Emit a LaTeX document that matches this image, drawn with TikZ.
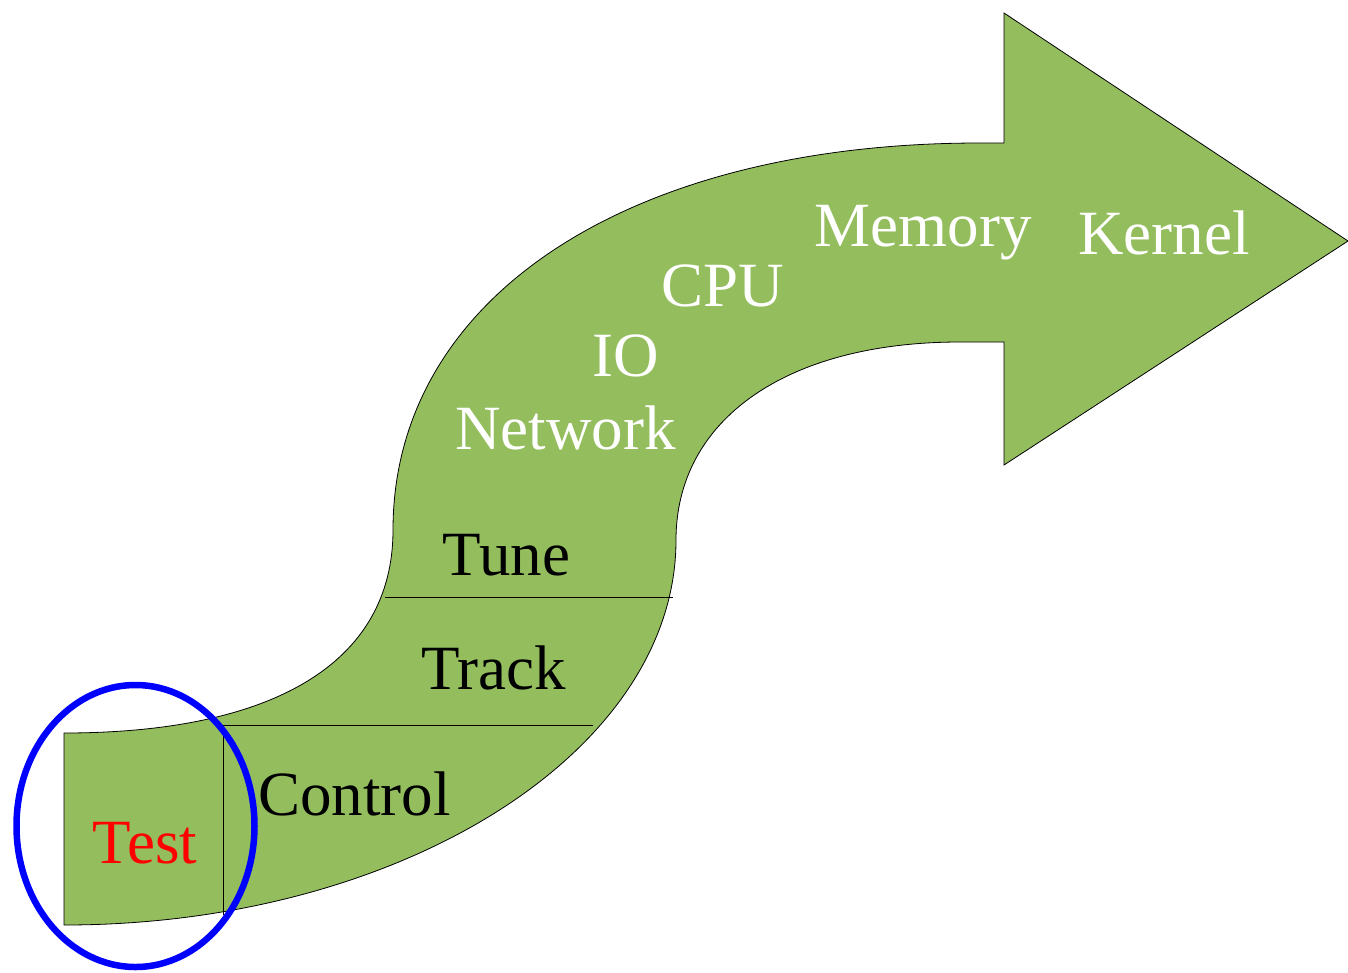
\documentclass[tikz,border=0pt]{standalone}
\usepackage{fontspec}
\setmainfont{Liberation Serif}
\definecolor{leaf}{RGB}{148,189,94}
\definecolor{ringblue}{RGB}{0,0,255}
\begin{document}
\begin{tikzpicture}[x=1pt,y=-1pt,
  word/.style={inner sep=0pt, anchor=base, font=\fontsize{63}{70}\selectfont},
  lightword/.style={word, text=white},
  darkword/.style={word, text=black},
  band/.style={draw=black, fill=leaf, line width=0.8pt, line join=miter},
  divider/.style={draw=black, line width=0.8pt},
  ring/.style={draw=ringblue, line width=6.5pt}]
\useasboundingbox (0,0) rectangle (1348,972);

% S-shaped band ending in a wide arrow head
\path[band]
  (64,733) .. controls (270,733) and (393,665) .. (393,530)
  .. controls (393,298) and (628,143) .. (980,143)
  -- (1004,143) -- (1004,13) -- (1348,241) -- (1004,465) -- (1004,342) -- (960,342)
  .. controls (786,342) and (676,420) .. (676,540)
  .. controls (676,752) and (401,925) .. (64,925) -- cycle;

% stage dividers
\coordinate (tuneL) at (385,597);
\coordinate (tuneR) at (673,597);
\coordinate (trackL) at (223,725);
\coordinate (trackR) at (593,725);
\coordinate (testB) at (223,915);
\draw[divider] (tuneL) -- (tuneR);
\draw[divider] (trackL) -- (trackR);
\draw[divider] (trackL) -- (testB);

% stage labels
\node[word, text=red] (test) at (145,863) {Test};
\node[darkword] (control) at (354.5,815) {Control};
\node[darkword] (track) at (493.5,689) {Track};
\node[darkword] (tune) at (506.5,575.5) {Tune};
\node[lightword] (network) at (565.5,449.5) {Network};
\node[lightword] (io) at (626,376) {IO};
\node[lightword] (cpu) at (722.5,306.5) {CPU};
\node[lightword] (memory) at (923,246.7) {Memory};
\node[lightword] (kernel) at (1164,254.3) {Kernel};

% highlight ring around the first stage
\draw[ring] (135.5,826) ellipse [x radius=119, y radius=141];
\end{tikzpicture}
\end{document}
